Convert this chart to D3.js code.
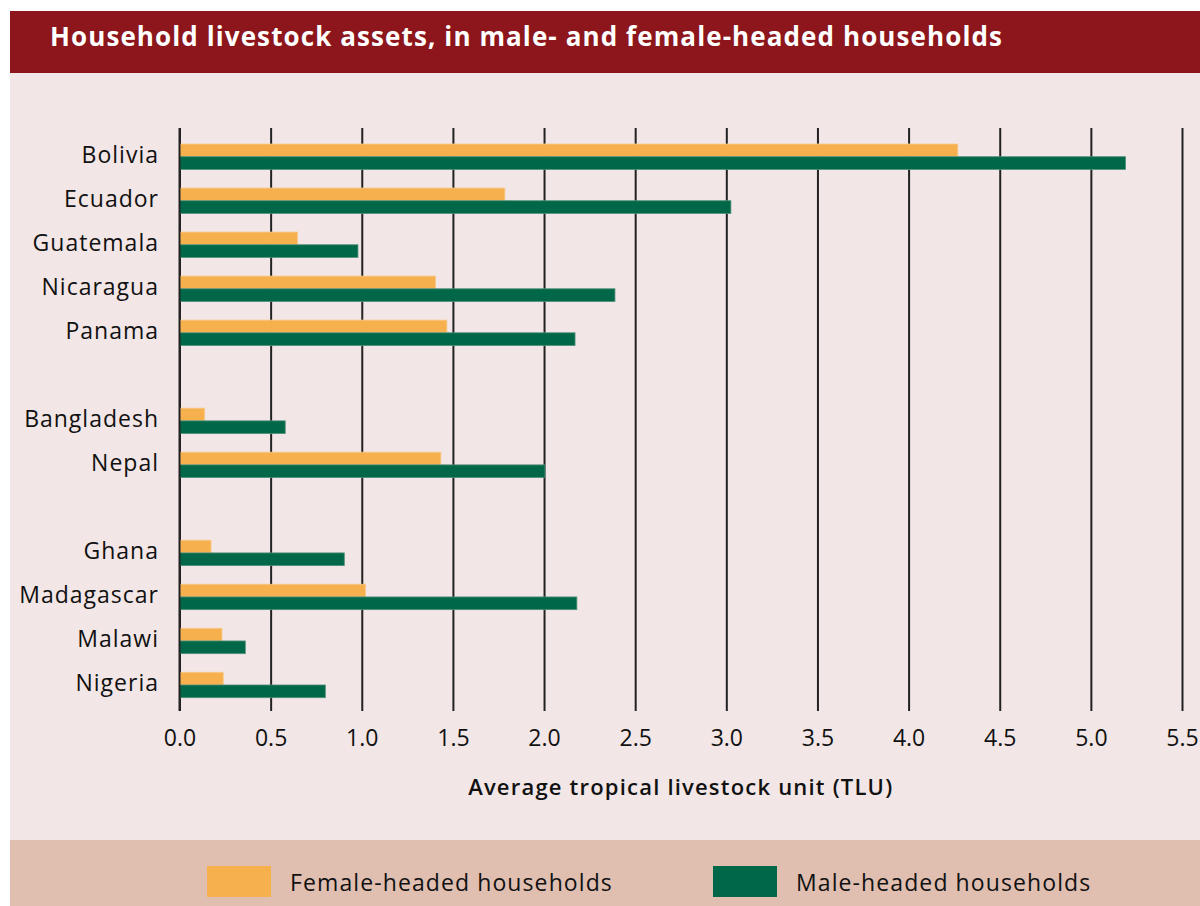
<!DOCTYPE html>
<html>
<head>
<meta charset="utf-8">
<script src="https://cdn.jsdelivr.net/npm/d3@7"></script>
<style>
  body { margin: 0; background: #ffffff; }
  svg { display: block; font-family: "Open Sans", "Noto Sans", sans-serif; }
</style>
</head>
<body>
<svg id="chart" width="1200" height="906"></svg>
<script>
// Paesi (con righe vuote tra i gruppi regionali)
const countries = ["Bolivia", "Ecuador", "Guatemala", "Nicaragua", "Panama", "", "Bangladesh", "Nepal", " ", "Ghana", "Madagascar", "Malawi", "Nigeria"];
// TLU medio, famiglie con capofamiglia donna
const femaleValues = [4.27, 1.785, 0.648, 1.405, 1.467, null, 0.138, 1.434, null, 0.173, 1.021, 0.233, 0.24];
// TLU medio, famiglie con capofamiglia uomo
const maleValues = [5.19, 3.025, 0.979, 2.389, 2.17, null, 0.58, 2.005, null, 0.904, 2.18, 0.361, 0.80];
const xTicks = [0, 0.5, 1, 1.5, 2, 2.5, 3, 3.5, 4, 4.5, 5, 5.5];
const legendLabels = ["Female-headed households", "Male-headed households"];

const colFemale = "#f6b04e";
const colMale = "#006848";

const svg = d3.select("#chart");

// Sfondi
svg.append("rect").attr("x", 10).attr("y", 73).attr("width", 1190).attr("height", 767).style("fill", "#f2e6e6");
svg.append("rect").attr("x", 10).attr("y", 840).attr("width", 1190).attr("height", 66).style("fill", "#e0bfb1");
svg.append("rect").attr("x", 10).attr("y", 11).attr("width", 1190).attr("height", 62).style("fill", "#8c161b");

// Titolo
svg.append("text")
    .attr("x", 50).attr("y", 46)
    .text("Household livestock assets, in male- and female-headed households")
    .style("fill", "#ffffff")
    .style("font-size", "26px")
    .style("letter-spacing", "1.1px")
    .style("font-weight", "bold");

// Scale
const x = d3.scaleLinear().domain([0, 5.5]).range([179.5, 1182]);
const y = d3.scaleBand().domain(countries).range([134.7, 707]).padding(0);

const gridTop = 128, gridBottom = 711;

// Asse X con griglia verticale
const xAxis = svg.append("g")
    .attr("transform", `translate(0, ${gridBottom})`)
    .call(d3.axisBottom(x)
        .tickValues(xTicks)
        .tickFormat(d3.format(".1f"))
        .tickSizeInner(-(gridBottom - gridTop))
        .tickSizeOuter(0)
        .tickPadding(19));
xAxis.select(".domain").remove();
xAxis.selectAll(".tick line").style("stroke", "#222222").style("stroke-width", 2);
xAxis.selectAll(".tick text")
    .style("font-family", "'Open Sans', sans-serif")
    .style("font-size", "23px")
    .style("font-weight", 500)
    .style("fill", "#111111");

// Barre
const barH = 12.7;
const rows = countries.map((c, i) => ({ c, f: femaleValues[i], m: maleValues[i] })).filter(d => d.f !== null);

svg.selectAll(".bar-f")
    .data(rows)
    .enter()
    .append("rect")
    .attr("class", "bar-f")
    .attr("x", x(0))
    .attr("y", d => y(d.c) + y.bandwidth() / 2 - barH)
    .attr("width", d => x(d.f) - x(0))
    .attr("height", barH)
    .style("fill", colFemale)
    .style("stroke", "#f8c98a")
    .style("stroke-width", 0.8);

svg.selectAll(".bar-m")
    .data(rows)
    .enter()
    .append("rect")
    .attr("class", "bar-m")
    .attr("x", x(0))
    .attr("y", d => y(d.c) + y.bandwidth() / 2)
    .attr("width", d => x(d.m) - x(0))
    .attr("height", barH)
    .style("fill", colMale)
    .style("stroke", "#4f8f78")
    .style("stroke-width", 0.8);

// Linea dello zero sopra le barre
svg.append("line")
    .attr("x1", x(0)).attr("x2", x(0))
    .attr("y1", gridTop).attr("y2", gridBottom)
    .style("stroke", "#222222").style("stroke-width", 2);

// Etichette paesi
svg.selectAll(".country")
    .data(rows)
    .enter()
    .append("text")
    .attr("class", "country")
    .attr("x", 159)
    .attr("y", d => y(d.c) + y.bandwidth() / 2 - 2)
    .attr("dy", "0.35em")
    .attr("text-anchor", "end")
    .text(d => d.c)
    .style("font-size", "23px")
    .style("font-weight", 500)
    .style("letter-spacing", "1px")
    .style("fill", "#111111");

// Titolo asse
svg.append("text")
    .attr("x", (x(0) + x(5.5)) / 2)
    .attr("y", 795)
    .attr("text-anchor", "middle")
    .text("Average tropical livestock unit (TLU)")
    .style("font-size", "22px")
    .style("font-weight", 600)
    .style("letter-spacing", "1.2px")
    .style("fill", "#111111");

// Legenda
const legendX = [207, 713];
const legend = svg.selectAll(".legend")
    .data(legendLabels)
    .enter()
    .append("g")
    .attr("class", "legend")
    .attr("transform", (d, i) => `translate(${legendX[i]}, 866)`);
legend.append("rect")
    .attr("width", 64).attr("height", 31)
    .style("fill", (d, i) => i === 0 ? colFemale : colMale);
legend.append("text")
    .attr("x", 83).attr("y", 25)
    .text(d => d)
    .style("font-size", "23px")
    .style("font-weight", 500)
    .style("letter-spacing", "1.1px")
    .style("fill", "#111111");
</script>
</body>
</html>
